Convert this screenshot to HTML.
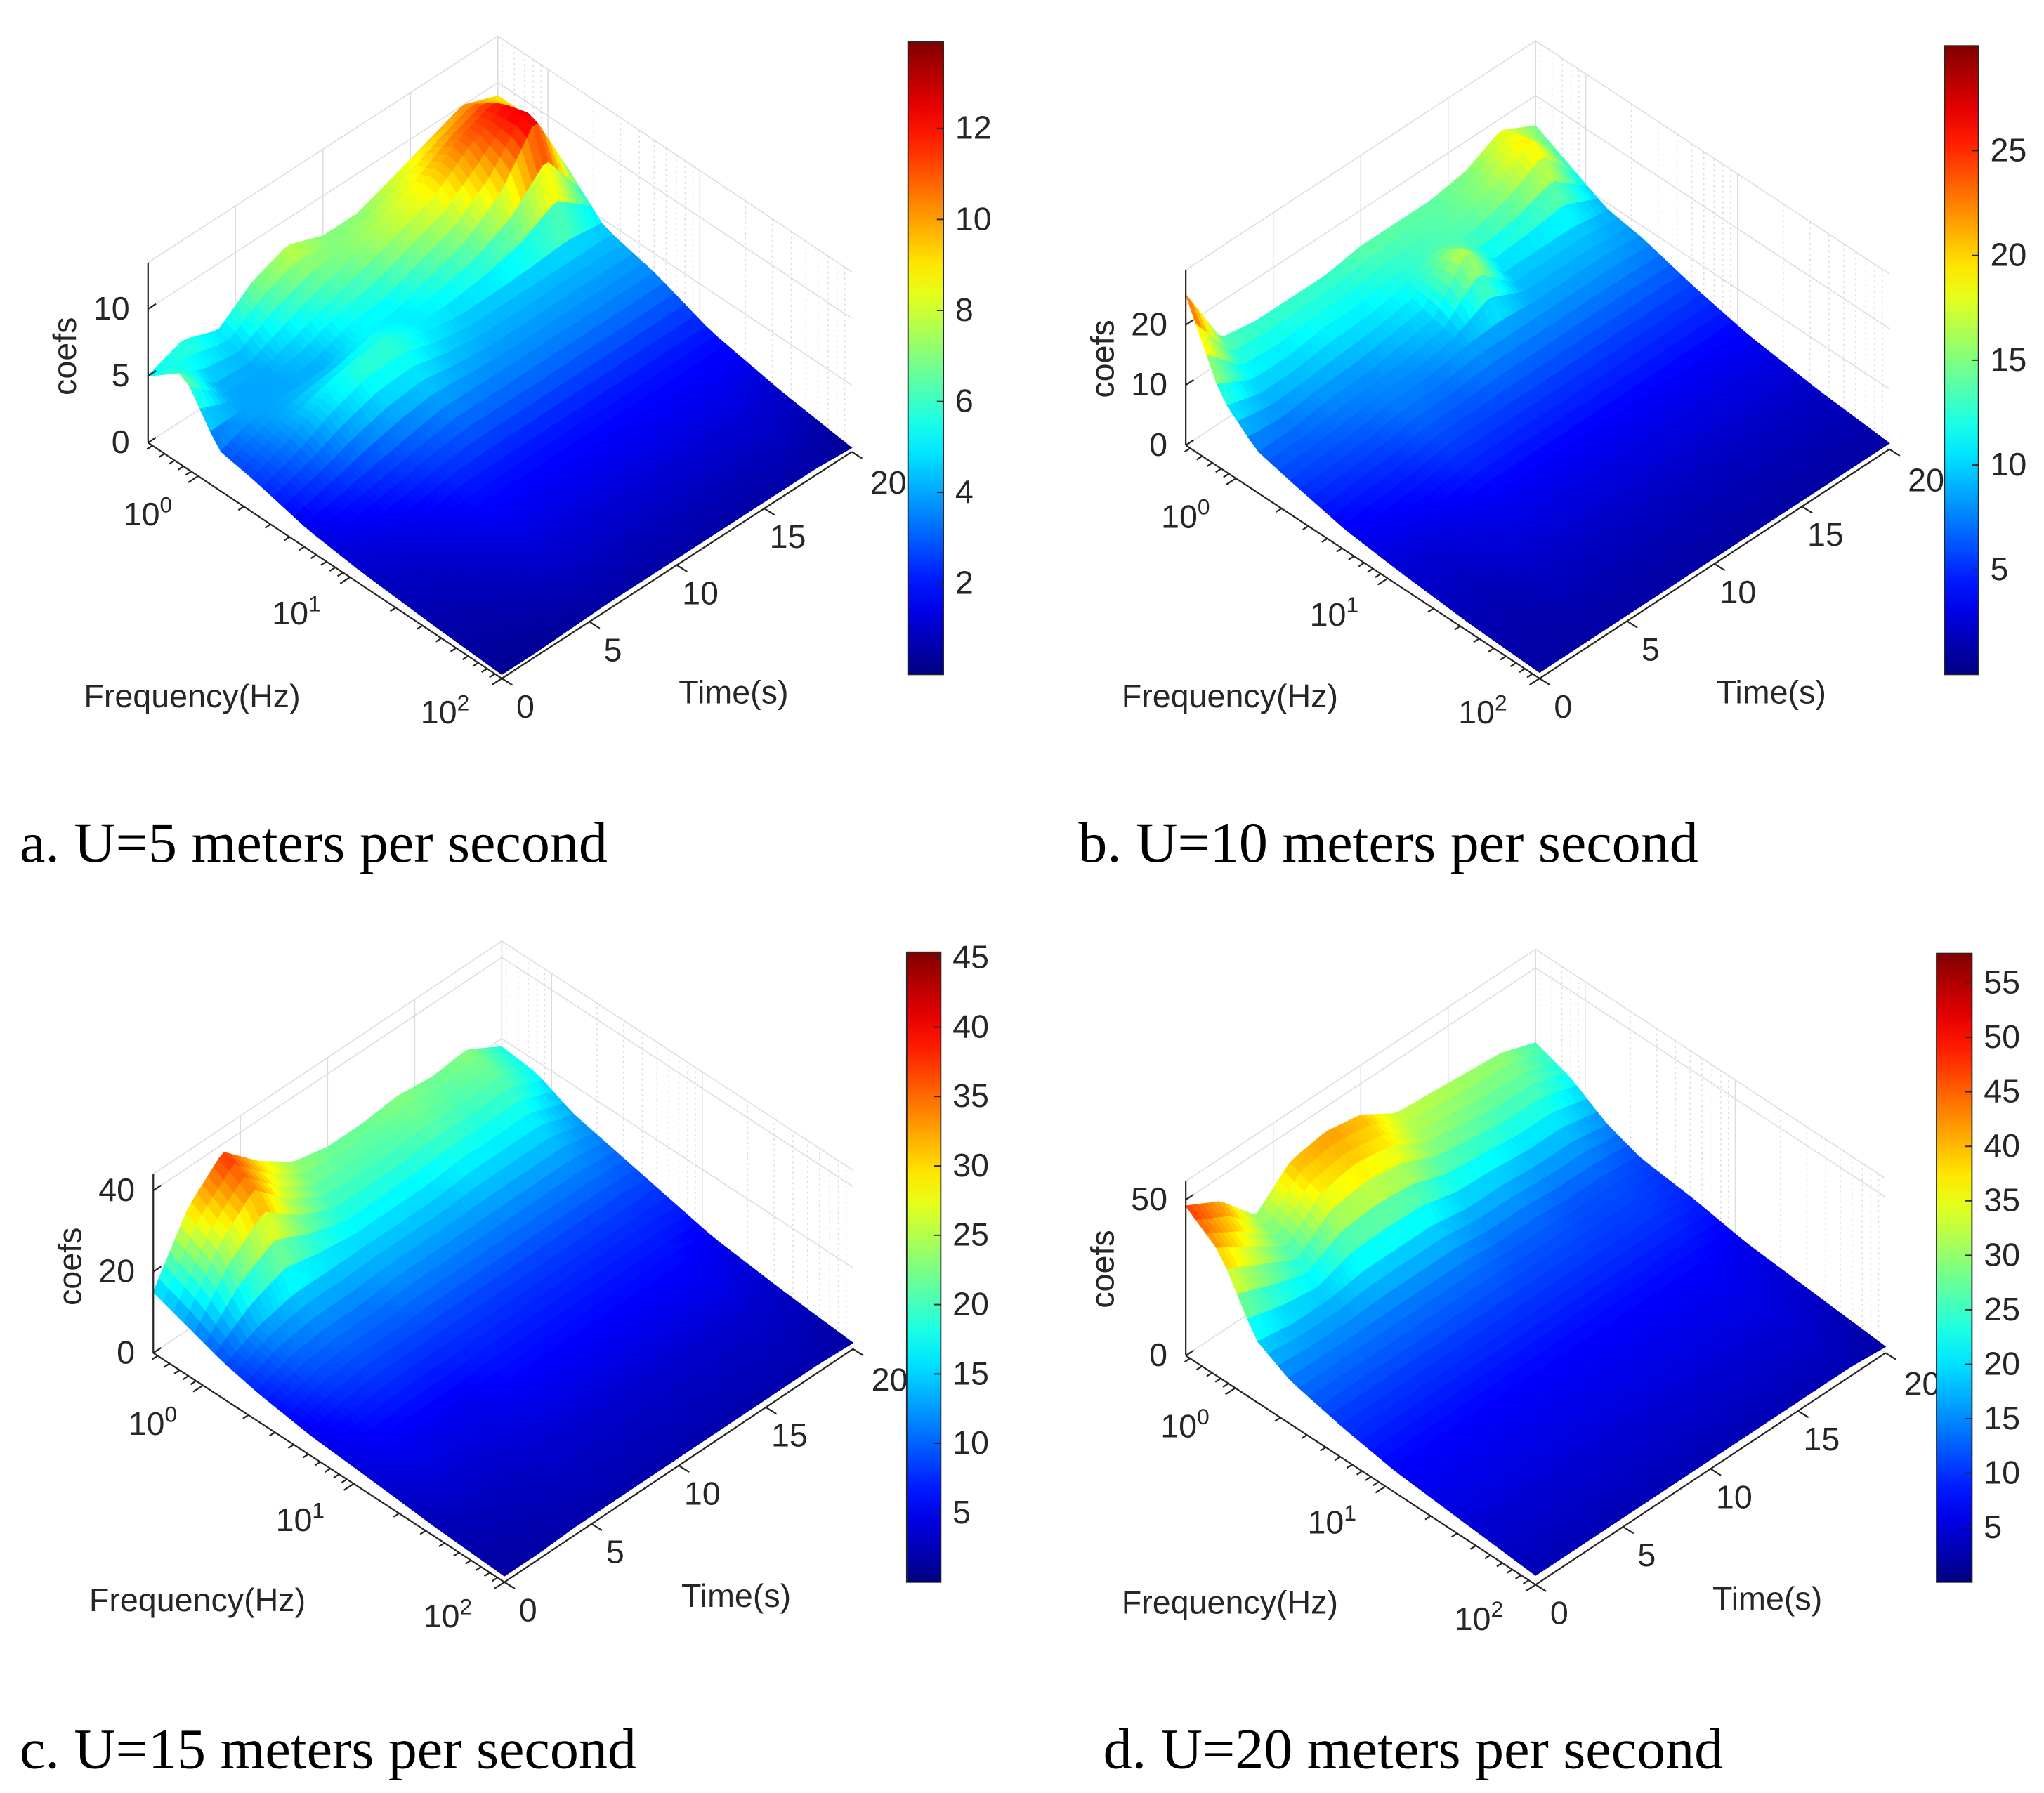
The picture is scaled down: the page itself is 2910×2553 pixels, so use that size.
<!DOCTYPE html>
<html><head><meta charset="utf-8"><title>Wavelet coefficient surfaces</title>
<style>
html,body{margin:0;padding:0;background:#fff;}
svg{display:block;}
.tk{font-family:"Liberation Sans",sans-serif;font-size:25px;fill:#262626;}
.cap{font-family:"Liberation Serif",serif;font-size:44px;fill:#000;}
</style></head>
<body>
<svg id="fig" xmlns="http://www.w3.org/2000/svg" width="2910" height="2553" viewBox="0 0 1560 1369" preserveAspectRatio="none">
<rect width="1560" height="1369" fill="#fff"/>
<text class="cap" x="15" y="658">a. U=5 meters per second</text>
<text class="cap" x="823" y="658">b. U=10 meters per second</text>
<text class="cap" x="15" y="1350">c. U=15 meters per second</text>
<text class="cap" x="842" y="1350">d. U=20 meters per second</text>
</svg>
<script>
// Shared axis data
const timeGrid = [0,2,4,6,8,10,12,14,16,18,20];
const freqGrid = [0,0.1,0.2,0.3,0.45,0.6,0.8,1.0];
const timeTicks = [0,5,10,15,20];
const freqTickLabels = ["0","1","2"];
const freqTickPos = [0.14,0.56,0.98];
// Panel values (rows: freq bands, cols: time)
const valuesA = [
 [5,6,5,7,8,7,7,8,9,10,9],
 [7,4,4,5,6,7,8,9,11,12,9],
 [3,4,4,4,5,5,6,7,9,13,7],
 [2.5,3.5,5,6,6,5,4.5,4.5,4.5,4.5,4.5],
 [1.5,2,2.5,3,3.5,3.5,3.5,3.5,3.5,3.5,3.5],
 [1,1.2,1.5,2,2,2,2,2,2,2,2],
 [0.6,0.7,0.9,1.2,1.2,1.2,1.2,1.2,1.2,1.2,1],
 [0.3,0.3,0.4,0.5,0.5,0.5,0.5,0.5,0.5,0.5,0.3]];
const valuesB = [
 [25,14,13,13,13,14,14,14,15,18,15],
 [12,10,10,11,11,12,13,14,16,20,12],
 [7,7,8,8,9,10,18,10,10,10,9],
 [5.5,6,6.5,7.5,7.5,8.5,8.5,8.5,8.5,8.5,8],
 [3.5,4,4.5,5.5,5.5,5.5,5.5,5.5,5.5,5.5,5.5],
 [2.5,2.5,3,3.5,3.5,3.5,3.5,3.5,3.5,3.5,3.5],
 [1.5,1.5,2,2,2,2,2,2,2,2,2],
 [1,1,1,1,1,1,1,1,1,1,1]];
const valuesC = [
 [15,30,38,30,24,22,22,23,22,23,18],
 [12,25,33,25,20,20,20,21,20,21,17],
 [9,13,15,15,15,15,15,16,16,16,13],
 [7,10,11,11,12,12,12,12,12,12,11],
 [5,7,8,8,8,8,8,8,8,8,8],
 [4,5,5,5,6,6,6,6,6,6,5],
 [2.5,3,3,3.5,3.5,3.5,3.5,3.5,3.5,3.5,3],
 [1.5,1.5,2,2,2,2,2,2,2,2,1.5]];
const valuesD = [
 [48,42,30,40,42,40,33,32,31,30,26],
 [40,33,26,36,38,36,30,28,26,26,22],
 [20,18,18,20,20,20,18,18,17,17,15],
 [14,14,14,14,14,14,13,13,12,12,11],
 [10,10,10,10,10,10,10,10,10,10,9],
 [7,7,7,7,7,7,7,7,7,7,6],
 [5,5,5,5,5,5,5,5,5,5,4],
 [3,3,3,3,3,3,3,3,3,3,2]];
const zTicksA=[0,5,10], zTicksB=[0,10,20], zTicksC=[0,20,40], zTicksD=[0,50];
const cTicksA=[2,4,6,8,10,12], cTicksB=[5,10,15,20,25], cTicksC=[5,10,15,20,25,30,35,40,45], cTicksD=[5,10,15,20,25,30,35,40,45,50,55];

const NS="http://www.w3.org/2000/svg";
const svg=document.getElementById('fig');
function mk(tag,attrs,parent){const e=document.createElementNS(NS,tag);for(const k in attrs)e.setAttribute(k,attrs[k]);(parent||svg).appendChild(e);return e;}
function jet(v){v=Math.max(0,Math.min(1,v));
 const r=Math.max(0,Math.min(1,1.5-Math.abs(4*v-3)));
 const g=Math.max(0,Math.min(1,1.5-Math.abs(4*v-2)));
 const b=Math.max(0,Math.min(1,1.5-Math.abs(4*v-1)));
 return `rgb(${Math.round(r*255)},${Math.round(g*255)},${Math.round(b*255)})`;}
function interp(vals,u,t){
 let i=0;while(i<freqGrid.length-2&&u>freqGrid[i+1])i++;
 let j=0;while(j<timeGrid.length-2&&t>timeGrid[j+1])j++;
 const fu=(u-freqGrid[i])/(freqGrid[i+1]-freqGrid[i]);
 const ft=(t-timeGrid[j])/(timeGrid[j+1]-timeGrid[j]);
 const a=vals[i][j],b=vals[i][j+1],c=vals[i+1][j],d=vals[i+1][j+1];
 return (a*(1-ft)+b*ft)*(1-fu)+(c*(1-ft)+d*ft)*fu;}

const panels=[
 {id:'a',L:[113,338],F:[383,518],B:[380,165],s:10.2,cmax:13.9,vals:valuesA,zt:zTicksA,ct:cTicksA,cb:{x:693,y0:32,y1:515,w:27}},
 {id:'b',L:[905,340],F:[1175,518],B:[1172,165],s:4.6,cmax:30,vals:valuesB,zt:zTicksB,ct:cTicksB,cb:{x:1484,y0:35,y1:515,w:26}},
 {id:'c',L:[117,1033],F:[385,1208],B:[383,855],s:3.1,cmax:45.4,vals:valuesC,zt:zTicksC,ct:cTicksC,cb:{x:692,y0:727,y1:1208,w:26}},
 {id:'d',L:[905,1035],F:[1172,1210],B:[1172,858],s:2.38,cmax:57.7,vals:valuesD,zt:zTicksD,ct:cTicksD,cb:{x:1478,y0:728,y1:1208,w:27}}];

const defs=mk('defs',{});
const grad=mk('linearGradient',{id:'jetgrad',x1:0,y1:1,x2:0,y2:0},defs);
for(let k=0;k<=20;k++){mk('stop',{offset:(k/20),'stop-color':jet(k/20)},grad);}

panels.forEach(p=>{
 const g=mk('g',{});
 
 
 const Fv=[p.F[0]-p.L[0],p.F[1]-p.L[1]], Tv=[p.B[0]-p.L[0],p.B[1]-p.L[1]];
 const P=(u,t,z)=>[p.L[0]+u*Fv[0]+(t/20)*Tv[0], p.L[1]+u*Fv[1]+(t/20)*Tv[1]-z*p.s];
 const zTop=p.cmax*0.97;
 const grid=mk('g',{stroke:'#dcdcdc','stroke-width':0.8,fill:'none'},g);
 
 
 const pts=(arr)=>arr.map(q=>q.join(',')).join(' ');
 mk('polyline',{points:pts([P(0,0,zTop),P(0,20,zTop),P(1,20,zTop)])},grid);
 mk('line',{x1:P(0,20,0)[0],y1:P(0,20,0)[1],x2:P(0,20,zTop)[0],y2:P(0,20,zTop)[1]},grid);
 timeTicks.forEach(t=>{const a=P(0,t,0),b=P(0,t,zTop);mk('line',{x1:a[0],y1:a[1],x2:b[0],y2:b[1]},grid);});
 for(let dec=-1;dec<2;dec++){for(let m=1;m<10;m++){const lv=dec+Math.log10(m);const uu=(lv+0.33)/2.33;if(uu<0||uu>1)continue;const a=P(uu,20,0),b=P(uu,20,zTop);mk('line',{x1:a[0],y1:a[1],x2:b[0],y2:b[1],'stroke-dasharray':m===1?'':'1.5,2.5'},grid);}}
 p.zt.forEach(z=>{mk('polyline',{points:pts([P(0,0,z),P(0,20,z),P(1,20,z)])},grid);});
 const NU=34,NT=64;
 const cells=[];
 for(let i=0;i<NU;i++)for(let j=0;j<NT;j++){
  const u0=i/NU,u1=(i+1)/NU,t0=20*j/NT,t1=20*(j+1)/NT;
  const z00=interp(p.vals,u0,t0),z01=interp(p.vals,u0,t1),z10=interp(p.vals,u1,t0),z11=interp(p.vals,u1,t1);
  const zc=(z00+z01+z10+z11)/4;
  const depth=P((u0+u1)/2,(t0+t1)/2,0)[1];
  cells.push({depth,zc,q:[P(u0,t0,z00),P(u0,t1,z01),P(u1,t1,z11),P(u1,t0,z10)]});
 }
 cells.sort((a,b)=>a.depth-b.depth);
 const surf=mk('g',{},g);
 
 
 cells.forEach(c=>{const col=jet(c.zc/p.cmax);
  mk('polygon',{points:pts(c.q),fill:col,stroke:col,'stroke-width':0.6},surf);});
 const ax=mk('g',{stroke:'#262626','stroke-width':1.2,fill:'none'},g);
 
 
 const zA=P(0,0,0),zB=P(0,0,zTop);
 mk('line',{x1:zA[0],y1:zA[1],x2:zB[0],y2:zB[1]},ax);
 const fE=P(1,0,0);mk('line',{x1:zA[0],y1:zA[1],x2:fE[0],y2:fE[1]},ax);
 const tE=P(1,20,0);mk('line',{x1:fE[0],y1:fE[1],x2:tE[0],y2:tE[1]},ax);
 p.zt.forEach(z=>{const q=P(0,0,z);mk('line',{x1:q[0],y1:q[1],x2:q[0]+6,y2:q[1]-4},ax);
  const t=mk('text',{x:q[0]-14,y:q[1]+8,'text-anchor':'end',class:'tk',stroke:'none',fill:'#262626'},g);t.textContent=z;
  
  });
 for(let dec=-1;dec<3;dec++){for(let m=1;m<10;m++){const lv=dec+Math.log10(m);const uu=(lv+0.33)/2.33;if(uu<0||uu>1.001)continue;const q=P(uu,0,0);const L=m===1?9:5;mk('line',{x1:q[0],y1:q[1],x2:q[0]-L*0.84,y2:q[1]+L*0.54},ax);}}
 freqTickPos.forEach((u,k)=>{const q=P(u,0,0);
  const t=mk('text',{x:q[0]-38,y:q[1]+38,'text-anchor':'middle',class:'tk'},g);
  
  
  t.appendChild(document.createTextNode('10'));
  const sp=mk('tspan',{dy:-10,'font-size':17},t);sp.textContent=freqTickLabels[k];});
 timeTicks.forEach(tv=>{const q=P(1,tv,0);mk('line',{x1:q[0],y1:q[1],x2:q[0]+8,y2:q[1]+5},ax);
  const t=mk('text',{x:q[0]+(tv===20?28:18),y:q[1]+(tv===20?32:30),'text-anchor':'middle',class:'tk'},g);t.textContent=tv;
  
  });
 const zt=mk('text',{x:0,y:0,class:'tk',transform:`translate(${p.L[0]-55},${p.L[1]-66}) rotate(-90)`,'text-anchor':'middle'},g);zt.textContent='coefs';
 
 
 const ft=mk('text',{x:p.L[0]-49,y:p.F[1]+22,class:'tk'},g);ft.textContent='Frequency(Hz)';
 
 
 const tt=mk('text',{x:p.F[0]+135,y:p.F[1]+19,class:'tk'},g);tt.textContent='Time(s)';
 
 
 const cb=p.cb;
 const bar=mk('rect',{x:cb.x,y:cb.y0,width:cb.w,height:cb.y1-cb.y0,fill:'url(#jetgrad)',stroke:'#262626','stroke-width':1},g);
 
 
 p.ct.forEach(v=>{const y=cb.y1-(v/p.cmax)*(cb.y1-cb.y0);
  mk('line',{x1:cb.x+cb.w-5,y1:y,x2:cb.x+cb.w,y2:y,stroke:'#262626','stroke-width':1},g);
  const t=mk('text',{x:cb.x+cb.w+9,y:y+8,class:'tk'},g);t.textContent=v;
  
  });
});
</script>
</body></html>
